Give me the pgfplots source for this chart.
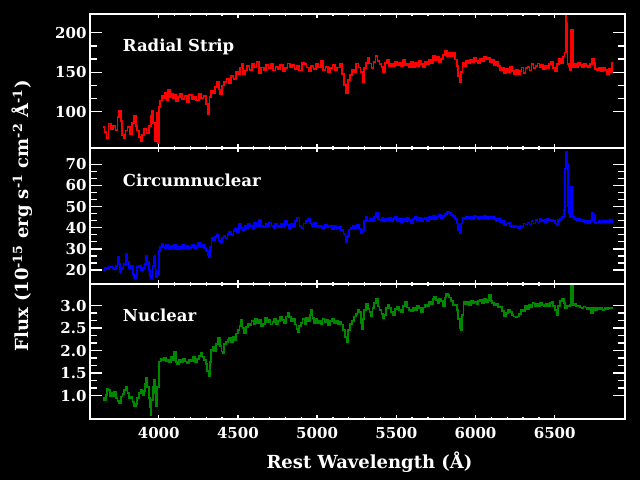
\documentclass[border=0pt]{standalone}
\usepackage{fontspec}
\setmainfont{DejaVu Serif}
\usepackage{pgfplots}
\pgfplotsset{compat=1.18}
\usepackage{pgfplotstable}
\newcommand\ticfont{\fontsize{15}{17}\selectfont\bfseries}
\newcommand\labfont{\fontsize{16.5}{19}\selectfont\bfseries}
\newcommand\axlabfont{\fontsize{18}{21}\selectfont\bfseries}
\definecolor{specgreen}{RGB}{0,135,0}

\pgfplotstableread{
l f
3650 80
3665 74
3675 66
3690 85
3705 78
3720 82
3735 77
3745 93
3755 101
3765 88
3775 70
3785 66
3795 76
3810 80
3825 72
3840 86
3850 94
3860 82
3870 76
3880 68
3890 63
3900 70
3915 78
3930 73
3945 82
3955 95
3962 101
3970 86
3978 62
3984 80
3990 98
3996 60
4004 106
4015 114
4025 120
4035 117
4045 124
4055 115
4065 127
4075 119
4085 122
4095 117
4105 121
4115 113
4125 118
4140 123
4155 116
4170 120
4185 112
4200 121
4215 116
4230 119
4245 114
4260 123
4275 117
4290 120
4305 110
4315 97
4325 118
4335 126
4350 124
4362 131
4375 138
4385 128
4392 122
4405 133
4420 138
4435 141
4450 136
4465 145
4480 141
4495 150
4510 147
4520 156
4527 161
4537 148
4550 152
4565 158
4580 153
4595 160
4610 156
4625 163
4640 149
4655 156
4670 153
4685 159
4700 155
4715 161
4730 152
4745 157
4760 154
4775 159
4790 151
4805 155
4820 161
4835 156
4850 159
4865 154
4880 158
4895 152
4910 162
4925 160
4940 156
4955 151
4970 158
4985 154
5000 160
5015 156
5030 164
5045 153
5060 157
5075 150
5090 155
5105 159
5120 152
5135 156
5150 160
5165 148
5178 134
5190 123
5200 140
5212 146
5225 153
5240 150
5255 161
5268 156
5280 150
5292 138
5303 155
5315 162
5325 168
5337 161
5350 155
5362 163
5375 171
5388 164
5400 160
5412 157
5425 150
5437 162
5450 166
5462 158
5475 161
5487 158
5500 163
5512 159
5525 162
5537 158
5550 165
5562 159
5575 161
5587 157
5600 163
5612 156
5625 162
5637 158
5650 164
5662 160
5675 157
5687 163
5700 160
5712 166
5725 162
5737 171
5750 165
5762 169
5775 163
5787 167
5800 172
5812 177
5825 170
5837 174
5850 171
5862 175
5875 166
5887 158
5897 145
5905 137
5913 150
5922 162
5935 158
5947 164
5960 161
5972 166
5985 163
5997 168
6010 164
6022 161
6035 167
6047 164
6060 170
6072 166
6085 168
6097 163
6110 165
6122 159
6135 163
6147 158
6160 152
6172 155
6185 149
6197 154
6210 150
6222 157
6235 151
6247 148
6260 153
6272 147
6285 151
6297 156
6310 149
6322 155
6335 157
6347 152
6360 160
6372 155
6385 158
6397 161
6410 156
6422 159
6435 154
6447 158
6460 155
6472 160
6485 163
6497 155
6510 151
6522 160
6535 167
6547 162
6558 170
6566 175
6572 221
6578 212
6584 160
6592 158
6600 152
6606 204
6612 204
6618 157
6630 160
6642 157
6655 162
6667 159
6680 157
6692 161
6705 158
6717 156
6730 160
6742 167
6752 162
6762 154
6775 152
6787 156
6800 151
6812 155
6825 153
6837 148
6850 154
6858 150
6866 162
}\topdata

\pgfplotstableread{
l f
3650 20
3665 21
3680 20.5
3695 21.5
3710 21
3725 20.5
3735 22
3745 26
3752 23
3760 19
3770 21
3785 23
3798 27.5
3808 24
3820 21
3832 22
3842 18
3850 16
3858 17
3868 21.5
3880 22
3892 20
3905 21
3915 23
3924 26.5
3932 24
3942 20
3950 17
3956 16
3964 22
3972 26
3977 26.5
3982 20
3987 16.5
3995 18
4004 29
4012 31
4022 32.5
4032 31
4042 30.5
4052 32
4062 31
4072 30
4082 31.5
4092 30.5
4105 32
4118 30
4130 31
4142 30
4155 32
4168 30.5
4180 31.5
4192 30
4205 31
4218 32
4230 30.5
4242 31.5
4255 33
4268 31
4280 32
4292 30.5
4305 29
4313 27
4320 26
4328 31
4338 35
4350 34
4362 35.5
4372 36.5
4382 34
4392 33
4402 35
4415 36
4428 35
4440 37
4452 38
4465 36.5
4478 38.5
4490 39.5
4502 38
4514 42
4525 40
4535 39
4548 41
4560 40
4572 42
4585 41
4598 40
4610 42.5
4625 41
4641 43.5
4655 41
4668 40.5
4680 42
4692 41
4705 42.5
4718 41
4730 40
4742 42
4755 41
4768 40.5
4780 42
4792 41
4805 43
4818 41.5
4830 40
4842 42
4855 41
4868 43
4883 44.8
4895 41
4908 40
4920 42
4935 43
4948 44.3
4960 42
4972 41
4985 42.5
5000 41
5012 40.5
5025 41
5040 40
5055 41.5
5070 40.5
5085 41
5100 39.5
5115 41
5130 40
5145 40.5
5160 39
5172 37
5186 33.4
5196 36
5207 39.2
5220 40
5232 41
5245 40
5258 41.5
5270 39.5
5282 37.4
5292 39
5304 43
5312 45.2
5325 43
5340 44
5352 43
5365 45
5376 47
5388 44
5400 43.5
5412 44.5
5425 43
5437 44
5450 43.5
5462 44.5
5475 43
5487 44
5500 45
5512 43
5525 44
5537 42.5
5550 44
5562 43
5575 44.5
5587 43.5
5600 42
5612 44
5625 45
5637 43.5
5650 44.5
5662 43
5675 44
5687 44.5
5700 43
5712 45
5725 44
5737 45.5
5750 44
5762 45
5775 46
5787 44.5
5800 45.5
5812 46.5
5825 47.5
5837 47
5850 46
5862 45.5
5875 44
5887 42
5897 39
5905 37.7
5913 42
5922 44.5
5935 44
5947 45
5960 44.5
5972 45
5985 44
5997 45.5
6010 45
6022 44
6035 45
6047 44.5
6060 45.5
6072 44
6085 45
6097 44.5
6110 45
6122 44
6135 43
6147 44
6160 42.5
6172 43
6186 41.3
6197 42
6210 42.5
6222 41
6235 40.5
6247 41
6260 40.5
6272 40
6285 41
6297 40.5
6310 42
6322 41.5
6335 42.5
6347 41.5
6360 43
6372 42
6385 43.5
6397 42.5
6410 44
6422 43
6435 43.5
6447 42.5
6460 44
6472 43
6485 43.5
6497 43
6510 42
6518 41.3
6528 43.5
6540 44
6552 45
6562 48.4
6568 68
6575 76
6581 70
6586 50
6592 46.7
6600 45
6606 59.4
6610 59.4
6616 45
6628 44
6640 43.5
6652 44
6665 43
6678 43.5
6690 42.5
6703 43
6715 42
6728 43
6739 47
6748 46
6758 42.1
6770 42.5
6782 43
6795 42.5
6808 43
6820 42.5
6832 43
6845 42.8
6856 43.5
6866 42.8
}\middata

\pgfplotstableread{
l f
3650 0.94
3662 0.90
3672 1.02
3678 1.16
3688 1.12
3698 1.00
3708 1.05
3714 0.99
3724 1.08
3734 0.95
3745 0.88
3756 0.83
3766 0.98
3776 1.04
3786 1.12
3798 1.20
3808 1.05
3818 0.95
3828 0.98
3840 0.85
3850 0.76
3860 0.82
3870 0.95
3880 1.05
3893 1.13
3903 1.02
3912 1.10
3918 1.25
3924 1.39
3932 1.20
3940 0.95
3946 0.75
3951 0.57
3958 0.90
3966 1.20
3972 1.35
3980 1.05
3987 0.76
3995 1.20
4008 1.76
4018 1.82
4028 1.78
4040 1.83
4050 1.76
4060 1.80
4072 1.74
4082 1.85
4092 1.78
4103 1.98
4112 1.75
4122 1.70
4135 1.80
4148 1.74
4160 1.82
4172 1.76
4185 1.72
4198 1.80
4210 1.77
4222 1.85
4235 1.74
4248 1.82
4260 1.88
4271 1.94
4282 1.86
4292 1.80
4302 1.70
4312 1.55
4320 1.44
4328 1.75
4334 2.02
4345 2.08
4356 1.98
4368 2.15
4381 2.28
4392 2.10
4400 1.98
4408 1.94
4418 2.15
4430 2.20
4440 2.24
4450 2.28
4462 2.20
4472 2.30
4482 2.24
4492 2.38
4505 2.45
4515 2.55
4524 2.68
4534 2.50
4545 2.39
4556 2.52
4568 2.60
4580 2.56
4592 2.66
4604 2.58
4616 2.70
4628 2.62
4640 2.68
4652 2.55
4664 2.60
4676 2.72
4688 2.64
4700 2.68
4712 2.58
4724 2.63
4736 2.70
4748 2.60
4760 2.66
4772 2.74
4784 2.68
4796 2.62
4808 2.76
4818 2.83
4830 2.74
4842 2.66
4854 2.70
4866 2.58
4874 2.48
4881 2.42
4890 2.55
4902 2.62
4914 2.70
4926 2.60
4938 2.72
4950 2.66
4958 2.80
4966 2.90
4975 2.72
4985 2.62
4996 2.70
5008 2.62
5018 2.66
5029 2.60
5040 2.70
5052 2.63
5064 2.68
5076 2.57
5088 2.66
5100 2.70
5112 2.62
5124 2.67
5136 2.60
5148 2.64
5160 2.58
5170 2.45
5180 2.30
5191 2.20
5200 2.45
5212 2.60
5225 2.66
5239 2.76
5250 2.82
5260 2.90
5271 2.86
5280 2.62
5285 2.47
5292 2.70
5302 2.90
5313 3.04
5325 2.92
5337 2.86
5344 2.76
5355 2.95
5366 3.05
5376 3.14
5388 2.98
5400 2.90
5412 2.82
5422 2.72
5430 2.80
5440 2.95
5450 3.02
5462 2.94
5475 2.85
5487 2.79
5500 2.92
5512 2.98
5525 2.90
5537 2.86
5550 3.00
5562 3.09
5575 2.96
5587 2.90
5600 2.87
5612 2.95
5625 2.90
5637 3.00
5650 2.94
5662 2.86
5675 2.96
5687 3.02
5700 2.98
5712 3.08
5725 3.04
5737 3.15
5744 3.20
5755 3.12
5765 3.05
5775 3.14
5787 3.10
5800 3.00
5812 3.18
5820 3.26
5828 3.24
5840 3.18
5852 3.10
5864 3.02
5876 3.02
5886 2.90
5896 2.70
5905 2.50
5912 2.46
5920 2.80
5928 3.09
5940 3.04
5952 3.08
5964 3.02
5976 3.10
5988 3.05
6000 3.08
6012 3.03
6024 3.10
6036 3.12
6048 3.06
6060 3.14
6072 3.08
6082 3.12
6091 3.24
6100 3.10
6112 3.06
6124 3.02
6136 3.04
6148 2.96
6160 2.98
6172 2.88
6186 2.76
6198 2.84
6210 2.90
6222 2.85
6234 2.80
6246 2.76
6258 2.74
6270 2.76
6282 2.82
6294 2.90
6306 2.88
6318 3.00
6330 2.92
6342 3.02
6354 2.96
6366 3.06
6378 3.00
6390 3.04
6402 2.98
6414 3.06
6426 3.02
6438 3.00
6450 3.04
6462 2.98
6474 3.05
6486 3.09
6496 3.00
6506 2.90
6518 2.79
6528 3.00
6540 3.10
6552 3.14
6562 3.06
6572 2.94
6582 3.00
6592 2.98
6600 3.02
6605 3.44
6612 3.44
6617 3.02
6628 3.04
6640 2.98
6652 3.00
6664 2.96
6676 2.94
6688 2.98
6700 2.96
6712 2.92
6724 2.96
6736 2.84
6748 2.95
6760 2.90
6772 2.96
6784 2.92
6796 2.96
6808 2.90
6820 2.94
6832 2.92
6844 2.95
6856 2.94
6866 2.96
}\botdata

\pgfplotsset{
  panel/.style={
    scale only axis, width=535pt, anchor=south west,
    xmin=3566, xmax=6944,
    axis line style={white, line width=1.5pt},
    tick style={white, line width=1.3pt},
    tick label style={white, font=\ticfont},
    xticklabel style={yshift=-5pt},
    xtick={4000,4500,...,6500}, minor x tick num=4,
    minor y tick num=2,
    tick align=inside,
    /pgf/number format/assume math mode=true,
    /pgf/number format/1000 sep={},
    xtick style={/pgfplots/major tick length=4pt, /pgfplots/minor tick length=2pt},
    ytick style={/pgfplots/major tick length=12pt, /pgfplots/minor tick length=7pt},
  },
  spec/.style={line width=1.8pt, const plot mark mid},
}

\begin{document}
\begin{tikzpicture}
\fill[black] (0,0) rectangle (640pt,480pt);

\begin{axis}[panel, at={(90pt,332pt)}, height=134pt,
  ymin=53.8, ymax=223.8, ytick={100,150,200}, xticklabels={}]
  \addplot[spec, red] table[x=l, y=f] {\topdata};
  \node[anchor=base west, white, font=\labfont] at (rel axis cs:0.055,0.72) {Radial Strip};
\end{axis}

\begin{axis}[panel, at={(90pt,196pt)}, height=136pt,
  ymin=13.4, ymax=77.7, ytick={20,30,...,70}, xticklabels={}]
  \addplot[spec, blue] table[x=l, y=f] {\middata};
  \node[anchor=base west, white, font=\labfont] at (rel axis cs:0.055,0.72) {Circumnuclear};
\end{axis}

\begin{axis}[panel, at={(90pt,61pt)}, height=135pt,
  ymin=0.48, ymax=3.48, ytick={1.0,1.5,...,3.0},
  yticklabel style={/pgf/number format/.cd, fixed, fixed zerofill, precision=1},
  xlabel={Rest Wavelength (Å)},
  xlabel style={white, font=\axlabfont, yshift=-6pt, xshift=12pt}]
  \addplot[spec, specgreen] table[x=l, y=f] {\botdata};
  \node[anchor=base west, white, font=\labfont] at (rel axis cs:0.055,0.72) {Nuclear};
\end{axis}

\node[rotate=90, white, font=\axlabfont] at (22pt,264pt)
  {Flux (10\textsuperscript{-15} erg s\textsuperscript{-1} cm\textsuperscript{-2} Å\textsuperscript{-1})};

\pgfresetboundingbox
\path[use as bounding box] (0,0) rectangle (640pt,480pt);
\end{tikzpicture}
\end{document}
